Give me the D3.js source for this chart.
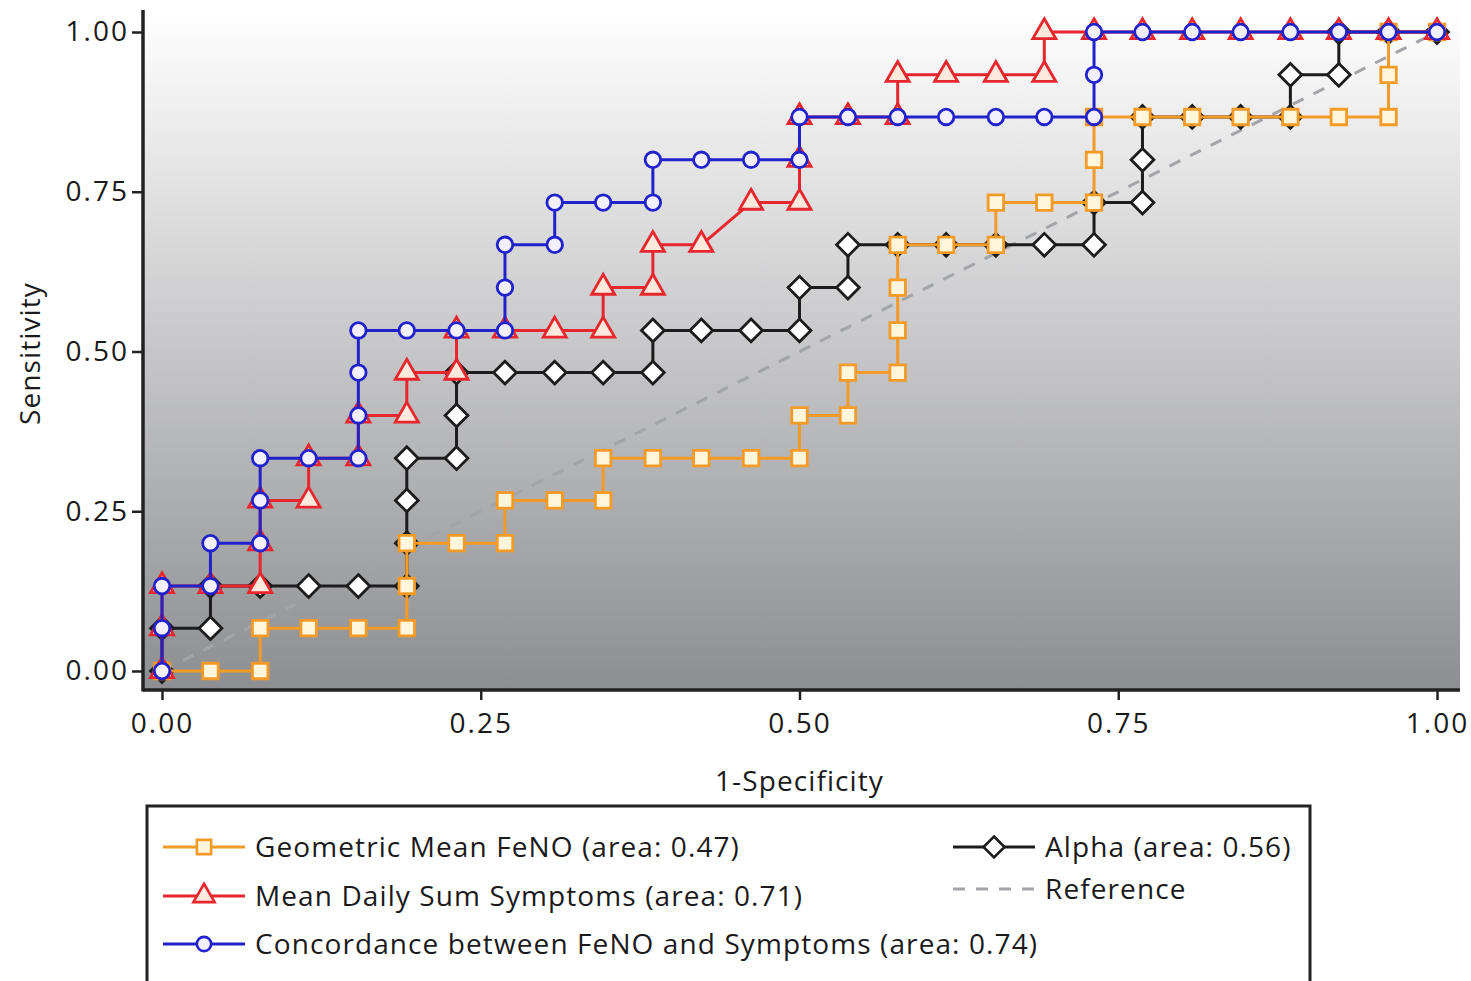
<!DOCTYPE html>
<html>
<head>
<meta charset="utf-8">
<script src="https://cdn.jsdelivr.net/npm/d3@7"></script>
<style>
  html, body { margin: 0; padding: 0; background: #ffffff; }
  svg { display: block; }
  text { font-family: "Open Sans", "Noto Sans", sans-serif; fill: #1a1a1a; }
</style>
</head>
<body>
<svg id="chart" width="1471" height="981"></svg>
<script>
// ROC curve coordinates: 1-specificity (x) and sensitivity (y) per classifier
const geoMeanX = [0, 0.038, 0.077, 0.077, 0.115, 0.154, 0.192, 0.192, 0.192, 0.231, 0.269, 0.269, 0.308, 0.346, 0.346, 0.385, 0.423, 0.462, 0.5, 0.5, 0.538, 0.538, 0.577, 0.577, 0.577, 0.577, 0.615, 0.654, 0.654, 0.692, 0.731, 0.731, 0.731, 0.769, 0.808, 0.846, 0.885, 0.923, 0.962, 0.962, 0.962, 1];
const geoMeanY = [0, 0, 0, 0.067, 0.067, 0.067, 0.067, 0.133, 0.2, 0.2, 0.2, 0.267, 0.267, 0.267, 0.333, 0.333, 0.333, 0.333, 0.333, 0.4, 0.4, 0.467, 0.467, 0.533, 0.6, 0.667, 0.667, 0.667, 0.733, 0.733, 0.733, 0.8, 0.867, 0.867, 0.867, 0.867, 0.867, 0.867, 0.867, 0.933, 1, 1];

const alphaX = [0, 0, 0.038, 0.038, 0.077, 0.115, 0.154, 0.192, 0.192, 0.192, 0.192, 0.231, 0.231, 0.231, 0.269, 0.308, 0.346, 0.385, 0.385, 0.423, 0.462, 0.5, 0.5, 0.538, 0.538, 0.577, 0.615, 0.654, 0.692, 0.731, 0.731, 0.769, 0.769, 0.769, 0.808, 0.846, 0.885, 0.885, 0.923, 0.923, 0.962, 1];
const alphaY = [0, 0.067, 0.067, 0.133, 0.133, 0.133, 0.133, 0.133, 0.2, 0.267, 0.333, 0.333, 0.4, 0.467, 0.467, 0.467, 0.467, 0.467, 0.533, 0.533, 0.533, 0.533, 0.6, 0.6, 0.667, 0.667, 0.667, 0.667, 0.667, 0.667, 0.733, 0.733, 0.8, 0.867, 0.867, 0.867, 0.867, 0.933, 0.933, 1, 1, 1];

const symptomsX = [0, 0, 0, 0.038, 0.077, 0.077, 0.077, 0.115, 0.115, 0.154, 0.154, 0.192, 0.192, 0.231, 0.231, 0.269, 0.308, 0.346, 0.346, 0.385, 0.385, 0.423, 0.462, 0.5, 0.5, 0.5, 0.538, 0.577, 0.577, 0.615, 0.654, 0.692, 0.692, 0.731, 0.769, 0.808, 0.846, 0.885, 0.923, 0.962, 1];
const symptomsY = [0, 0.067, 0.133, 0.133, 0.133, 0.2, 0.267, 0.267, 0.333, 0.333, 0.4, 0.4, 0.467, 0.467, 0.533, 0.533, 0.533, 0.533, 0.6, 0.6, 0.667, 0.667, 0.733, 0.733, 0.8, 0.867, 0.867, 0.867, 0.933, 0.933, 0.933, 0.933, 1, 1, 1, 1, 1, 1, 1, 1, 1];

const concordX = [0, 0, 0, 0.038, 0.038, 0.077, 0.077, 0.077, 0.115, 0.154, 0.154, 0.154, 0.154, 0.192, 0.231, 0.269, 0.269, 0.269, 0.308, 0.308, 0.346, 0.385, 0.385, 0.423, 0.462, 0.5, 0.5, 0.538, 0.577, 0.615, 0.654, 0.692, 0.731, 0.731, 0.731, 0.769, 0.808, 0.846, 0.885, 0.923, 0.962, 1];
const concordY = [0, 0.067, 0.133, 0.133, 0.2, 0.2, 0.267, 0.333, 0.333, 0.333, 0.4, 0.467, 0.533, 0.533, 0.533, 0.533, 0.6, 0.667, 0.667, 0.733, 0.733, 0.733, 0.8, 0.8, 0.8, 0.8, 0.867, 0.867, 0.867, 0.867, 0.867, 0.867, 0.867, 0.933, 1, 1, 1, 1, 1, 1, 1, 1];

const referenceX = [0, 1];
const referenceY = [0, 1];

const tickValues = [0, 0.25, 0.5, 0.75, 1];
const seriesLabels = [
  "Geometric Mean FeNO (area: 0.47)",
  "Mean Daily Sum Symptoms (area: 0.71)",
  "Concordance between FeNO and Symptoms (area: 0.74)",
  "Alpha (area: 0.56)",
  "Reference"
];
const xTitle = "1-Specificity";
const yTitle = "Sensitivity";

// ---- layout ----
const svg = d3.select("#chart");
const plot = { left: 143, right: 1460, top: 10, bottom: 690 };
const x = d3.scaleLinear().domain([0, 1]).range([162, 1437]);
const y = d3.scaleLinear().domain([0, 1]).range([671, 32]);

// background gradient
const defs = svg.append("defs");
const grad = defs.append("linearGradient")
  .attr("id", "bg").attr("x1", 0).attr("y1", 0).attr("x2", 0).attr("y2", 1);
grad.append("stop").attr("offset", "0%").attr("stop-color", "#ffffff");
grad.append("stop").attr("offset", "100%").attr("stop-color", "#8d8e91");

svg.append("rect")
  .attr("x", plot.left).attr("y", plot.top)
  .attr("width", plot.right - plot.left).attr("height", plot.bottom - plot.top)
  .attr("fill", "url(#bg)");

// axes
const yAxis = d3.axisLeft(y).tickValues(tickValues).tickFormat(d3.format(".2f")).tickSize(11).tickPadding(3);
const xAxis = d3.axisBottom(x).tickValues(tickValues).tickFormat(d3.format(".2f")).tickSize(10).tickPadding(13);

const gy = svg.append("g").attr("transform", `translate(${plot.left},0)`).call(yAxis);
const gx = svg.append("g").attr("transform", `translate(0,${plot.bottom})`).call(xAxis);
[gx, gy].forEach(g => {
  g.select(".domain").remove();
  g.selectAll(".tick line").attr("stroke", "#222").attr("stroke-width", 2.5);
  g.selectAll(".tick text").attr("font-size", 28).attr("fill", "#1a1a1a")
    .attr("letter-spacing", 2)
    .style("font-family", "'Open Sans', sans-serif");
});

svg.append("line")
  .attr("x1", plot.left).attr("x2", plot.left)
  .attr("y1", plot.top).attr("y2", plot.bottom + 1.5)
  .attr("stroke", "#222").attr("stroke-width", 3.5);
svg.append("line")
  .attr("x1", plot.left).attr("x2", plot.right)
  .attr("y1", plot.bottom).attr("y2", plot.bottom)
  .attr("stroke", "#222").attr("stroke-width", 3.5);

// axis titles
svg.append("text")
  .attr("x", (x(0) + x(1)) / 2).attr("y", 791)
  .attr("text-anchor", "middle").attr("font-size", 28).attr("letter-spacing", 1.1)
  .text(xTitle);
svg.append("text")
  .attr("transform", `translate(40,${(y(0) + y(1)) / 2 + 2}) rotate(-90)`)
  .attr("text-anchor", "middle").attr("font-size", 28).attr("letter-spacing", 1.1)
  .text(yTitle);

// ---- series ----
const zip = (xs, ys) => xs.map((v, i) => [v, ys[i]]);
const line = d3.line().x(d => x(d[0])).y(d => y(d[1]));

const diamond = {
  draw(ctx, size) {
    const r = Math.sqrt(size / 2);
    ctx.moveTo(0, -r); ctx.lineTo(r, 0); ctx.lineTo(0, r); ctx.lineTo(-r, 0); ctx.closePath();
  }
};

const series = [
  { x: alphaX, y: alphaY, color: "#1c1c1c", symbol: diamond, size: 260, fill: "#ffffff", label: seriesLabels[3] },
  { x: geoMeanX, y: geoMeanY, color: "#f39a27", symbol: d3.symbolSquare, size: 240, fill: "#fff6dc", label: seriesLabels[0] },
  { x: symptomsX, y: symptomsY, color: "#e8262d", symbol: d3.symbolTriangle, size: 230, fill: "#ffe9dc", label: seriesLabels[1] },
  { x: concordX, y: concordY, color: "#2222cc", symbol: d3.symbolCircle, size: 190, fill: "#f2f0ff", label: seriesLabels[2] }
];

// diagonal reference
svg.append("path")
  .datum(zip(referenceX, referenceY))
  .attr("d", line)
  .attr("fill", "none").attr("stroke", "#a3a4a8")
  .attr("stroke-width", 3).attr("stroke-dasharray", "12,11");

series.forEach(s => {
  const pts = zip(s.x, s.y);
  const g = svg.append("g");
  g.append("path").datum(pts).attr("d", line)
    .attr("fill", "none").attr("stroke", s.color).attr("stroke-width", 3)
    .attr("stroke-linejoin", "round");
  g.selectAll("path.mark").data(pts).join("path").attr("class", "mark")
    .attr("transform", d => `translate(${x(d[0])},${y(d[1])})`)
    .attr("d", d3.symbol().type(s.symbol).size(s.size))
    .attr("fill", s.fill).attr("stroke", s.color).attr("stroke-width", 2.8);
});

// ---- legend ----
svg.append("rect")
  .attr("x", 147).attr("y", 806).attr("width", 1163).attr("height", 200)
  .attr("fill", "#ffffff").attr("stroke", "#222").attr("stroke-width", 3);

const legendItems = [
  { s: series[1], lx: 163, ty: 847 },
  { s: series[2], lx: 163, ty: 896 },
  { s: series[3], lx: 163, ty: 944 },
  { s: series[0], lx: 953, ty: 847 }
];
legendItems.forEach(it => {
  const g = svg.append("g");
  g.append("line").attr("x1", it.lx).attr("x2", it.lx + 82)
    .attr("y1", it.ty).attr("y2", it.ty)
    .attr("stroke", it.s.color).attr("stroke-width", 3);
  g.append("path")
    .attr("transform", `translate(${it.lx + 41},${it.ty})`)
    .attr("d", d3.symbol().type(it.s.symbol).size(it.s.size * 0.85))
    .attr("fill", it.s.fill).attr("stroke", it.s.color).attr("stroke-width", 2.6);
  g.append("text").attr("x", it.lx + 92).attr("y", it.ty)
    .attr("dy", "0.35em").attr("font-size", 28).attr("letter-spacing", 1.1)
    .text(it.s.label);
});
// reference entry
svg.append("line").attr("x1", 953).attr("x2", 1035).attr("y1", 889).attr("y2", 889)
  .attr("stroke", "#a3a4a8").attr("stroke-width", 3).attr("stroke-dasharray", "12,11");
svg.append("text").attr("x", 1045).attr("y", 889).attr("dy", "0.35em")
  .attr("font-size", 28).attr("letter-spacing", 1.1).text(seriesLabels[4]);
</script>
</body>
</html>
